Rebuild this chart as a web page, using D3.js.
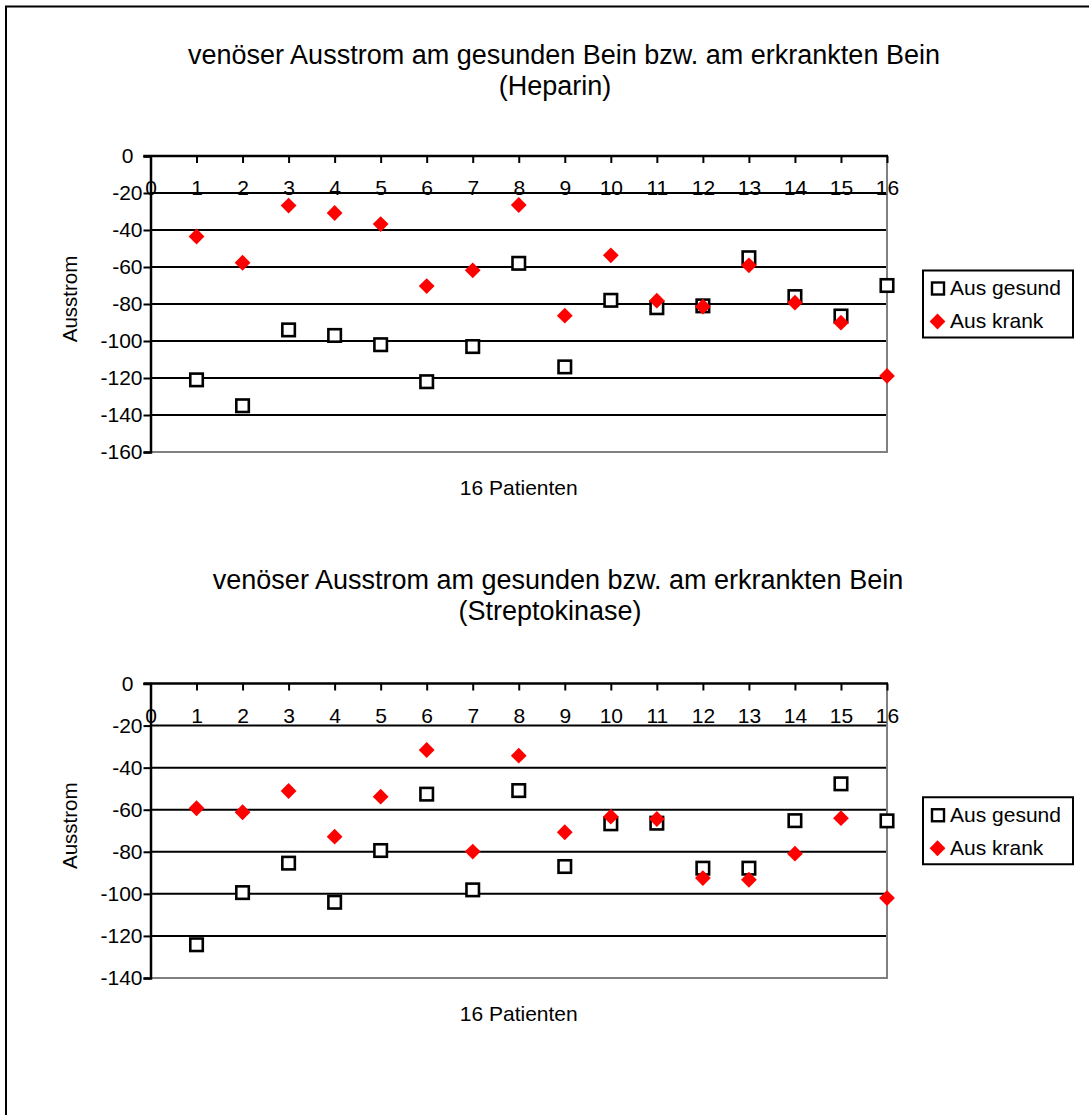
<!DOCTYPE html>
<html>
<head>
<meta charset="utf-8">
<script src="https://cdn.jsdelivr.net/npm/d3@7"></script>
<style>
  html, body { margin: 0; padding: 0; background: #fff; }
  svg { display: block; font-family: "Liberation Sans", Arial, sans-serif; }
</style>
</head>
<body>
<svg id="chart" width="1089" height="1115"></svg>
<script>
// ---------- data ----------
const patients = [1,2,3,4,5,6,7,8,9,10,11,12,13,14,15,16];
const xTicks = [0,1,2,3,4,5,6,7,8,9,10,11,12,13,14,15,16];

const heparinGesund = [-121,-135,-94,-97,-102,-122,-103,-58,-114,-78,-82,-81,-55,-76,-86.5,-70];
const heparinKrank  = [-43.5,-57.7,-26.8,-30.8,-36.8,-70.3,-61.8,-26.5,-86.3,-53.7,-78.2,-81.4,-59.1,-79.3,-90.1,-118.9];
const heparinYTicks = [0,-20,-40,-60,-80,-100,-120,-140,-160];

const streptoGesund = [-124.2,-99.4,-85.4,-104,-79.4,-52.6,-98.1,-50.9,-87,-66.7,-66.4,-87.8,-87.8,-65.2,-47.7,-65.3];
const streptoKrank  = [-59.3,-61.2,-51.1,-72.8,-53.8,-31.6,-79.9,-34.3,-70.7,-63.3,-64.4,-92.5,-93.3,-80.9,-64,-102];
const streptoYTicks = [0,-20,-40,-60,-80,-100,-120,-140];

const seriesNames = ["Aus gesund", "Aus krank"];
const xTitle = "16 Patienten";
const yTitle = "Ausstrom";
const heparinTitle = ["venöser Ausstrom am gesunden Bein bzw. am erkrankten Bein", "(Heparin)"];
const streptoTitle = ["venöser Ausstrom am gesunden bzw. am erkrankten Bein", "(Streptokinase)"];

// ---------- drawing ----------
const svg = d3.select("#chart");

// outer frame (extends beyond the viewport on right/bottom)
svg.append("rect")
  .attr("x", 6).attr("y", 6.5)
  .attr("width", 1200).attr("height", 1300)
  .attr("fill", "none").attr("stroke", "#000").attr("stroke-width", 2);

function drawChart(cfg) {
  const g = svg.append("g");
  const x = d3.scaleLinear().domain([0, 16]).range([150.5, 887]);
  const yMin = d3.min(cfg.yTicks);
  const y = d3.scaleLinear().domain([yMin, 0]).range([cfg.bottom, cfg.top]);

  // gridlines (black) for interior ticks
  g.selectAll("line.grid")
    .data(cfg.yTicks.filter(v => v !== 0 && v !== yMin))
    .join("line")
    .attr("x1", x(0)).attr("x2", x(16))
    .attr("y1", d => y(d)).attr("y2", d => y(d))
    .attr("stroke", "#000").attr("stroke-width", 2);

  // plot border bottom & right (grey)
  g.append("line")
    .attr("x1", x(0)).attr("x2", x(16) + 1)
    .attr("y1", y(yMin)).attr("y2", y(yMin))
    .attr("stroke", "#808080").attr("stroke-width", 2);
  g.append("line")
    .attr("x1", x(16)).attr("x2", x(16))
    .attr("y1", y(0)).attr("y2", y(yMin))
    .attr("stroke", "#808080").attr("stroke-width", 2);

  // y axis
  const yAxis = d3.axisLeft(y).tickValues(cfg.yTicks).tickSize(7).tickPadding(2)
    .tickFormat(d => String(d));
  const ya = g.append("g").attr("transform", `translate(${x(0)},0)`).call(yAxis);
  ya.select(".domain").attr("stroke", "#000").attr("stroke-width", 2.5);
  ya.selectAll(".tick line").attr("stroke", "#000").attr("stroke-width", 2);
  ya.selectAll(".tick text")
    .attr("font-size", 21).attr("fill", "#000")
    .attr("font-family", '"Liberation Sans", Arial, sans-serif')
    .attr("x", d => d === 0 ? -17 : -8);

  // x axis at y = 0, ticks pointing into plot, labels below
  const xAxis = d3.axisBottom(x).tickValues(xTicks).tickSize(7).tickPadding(0)
    .tickFormat(d => String(d));
  const xa = g.append("g").attr("transform", `translate(0,${y(0)})`).call(xAxis);
  xa.select(".domain").remove();
  xa.append("line").attr("x1", x(0) - 7).attr("x2", x(16) + 1)
    .attr("y1", 0).attr("y2", 0).attr("stroke", "#000").attr("stroke-width", 2.5);
  xa.selectAll(".tick line").attr("stroke", "#000").attr("stroke-width", 2);
  xa.selectAll(".tick text")
    .attr("font-size", 21).attr("fill", "#000")
    .attr("font-family", '"Liberation Sans", Arial, sans-serif')
    .attr("y", 39).attr("dy", 0);

  // markers: gesund (squares)
  const sq = 12.5;
  g.selectAll("rect.gesund")
    .data(patients.map((p, i) => [p, cfg.gesund[i]]))
    .join("rect")
    .attr("x", d => x(d[0]) - sq / 2).attr("y", d => y(d[1]) - sq / 2)
    .attr("width", sq).attr("height", sq)
    .attr("fill", "#fff").attr("stroke", "#000").attr("stroke-width", 2.6);

  // markers: krank (red diamonds)
  const diamond = d3.symbol().type(d3.symbolSquare).size(125);
  g.selectAll("path.krank")
    .data(patients.map((p, i) => [p, cfg.krank[i]]))
    .join("path")
    .attr("d", diamond)
    .attr("transform", d => `translate(${x(d[0])},${y(d[1])}) rotate(45)`)
    .attr("fill", "#ff0000");

  // title
  g.selectAll("text.title")
    .data(cfg.title)
    .join("text")
    .attr("x", (d, i) => cfg.titleX[i])
    .attr("y", (d, i) => cfg.titleY[i])
    .attr("text-anchor", "middle")
    .attr("font-size", 27).attr("fill", "#000")
    .text(d => d);

  // axis titles
  g.append("text")
    .attr("x", (x(0) + x(16)) / 2).attr("y", y(yMin) + 43)
    .attr("text-anchor", "middle").attr("font-size", 21).attr("fill", "#000")
    .text(xTitle);
  const yMid = (y(0) + y(yMin)) / 2 - 5;
  g.append("text")
    .attr("transform", `translate(76.5,${yMid}) rotate(-90)`)
    .attr("text-anchor", "middle").attr("font-size", 20.5).attr("fill", "#000")
    .text(yTitle);

  // legend
  const lgTop = yMid + 5 - 33.5;
  const lg = g.append("g").attr("transform", `translate(923,${lgTop})`);
  lg.append("rect").attr("x", 0).attr("y", 0).attr("width", 150).attr("height", 67)
    .attr("fill", "#fff").attr("stroke", "#000").attr("stroke-width", 2);
  lg.append("rect").attr("x", 9).attr("y", 12).attr("width", 12).attr("height", 12)
    .attr("fill", "#fff").attr("stroke", "#000").attr("stroke-width", 2.4);
  lg.append("path").attr("d", diamond)
    .attr("transform", "translate(14.5,51) rotate(45)").attr("fill", "#ff0000");
  lg.selectAll("text.lg")
    .data(seriesNames)
    .join("text")
    .attr("x", 27).attr("y", (d, i) => 24.5 + i * 33)
    .attr("font-size", 21).attr("fill", "#000")
    .text(d => d);
}

drawChart({
  top: 156, bottom: 452, yTicks: heparinYTicks,
  gesund: heparinGesund, krank: heparinKrank,
  title: heparinTitle, titleX: [564, 555], titleY: [64, 95]
});
drawChart({
  top: 683.5, bottom: 978, yTicks: streptoYTicks,
  gesund: streptoGesund, krank: streptoKrank,
  title: streptoTitle, titleX: [558, 550], titleY: [589, 620]
});
</script>
</body>
</html>
